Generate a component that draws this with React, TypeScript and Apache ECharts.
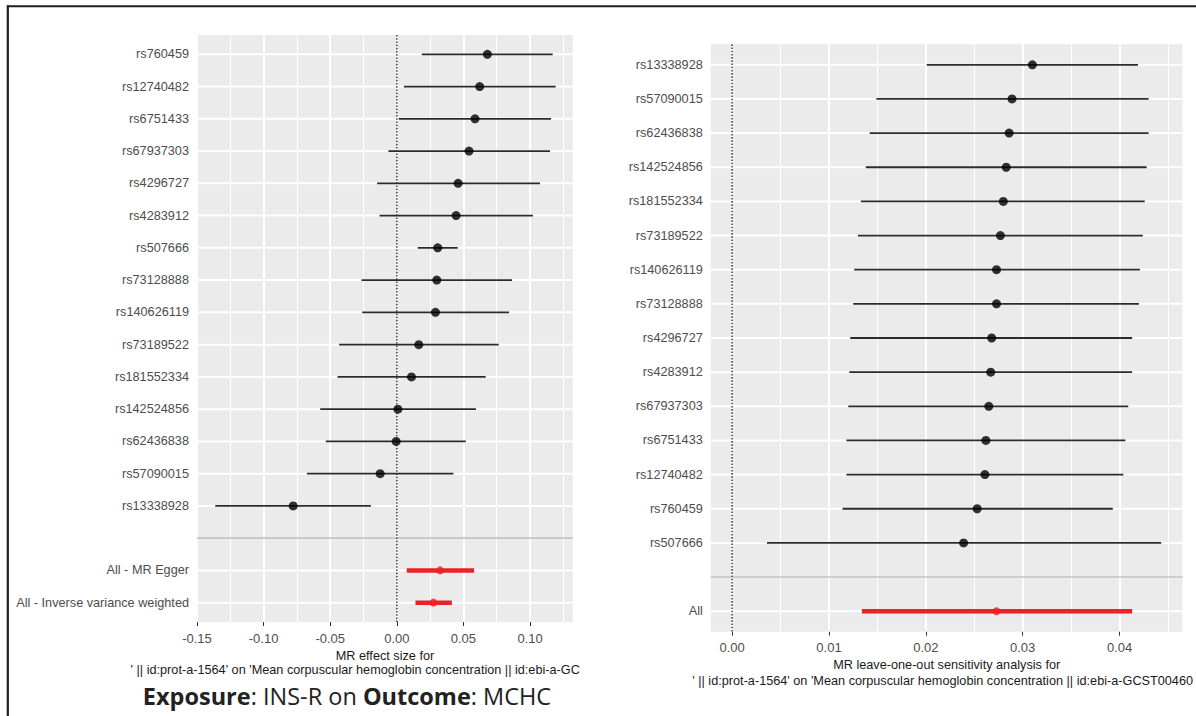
import React, { useEffect, useRef } from "react";
import * as echarts from "echarts";

// ---------- data ----------
const leftLabels = ["rs760459", "rs12740482", "rs6751433", "rs67937303", "rs4296727", "rs4283912", "rs507666", "rs73128888", "rs140626119", "rs73189522", "rs181552334", "rs142524856", "rs62436838", "rs57090015", "rs13338928"];
const leftEst = [0.068, 0.0622, 0.0587, 0.0542, 0.046, 0.0445, 0.0307, 0.03, 0.029, 0.0165, 0.011, 0.0008, -0.0005, -0.0125, -0.0778];
const leftLo = [0.0188, 0.0053, 0.0015, -0.0063, -0.0148, -0.013, 0.0157, -0.0265, -0.026, -0.0433, -0.0445, -0.0575, -0.0533, -0.0675, -0.1363];
const leftHi = [0.117, 0.1193, 0.1157, 0.115, 0.1075, 0.1022, 0.0457, 0.0865, 0.0842, 0.0765, 0.0667, 0.0595, 0.0518, 0.0425, -0.0195];
const leftSumLabels = ["All - MR Egger", "All - Inverse variance weighted"];
const leftSumEst = [0.0325, 0.0275];
const leftSumLo = [0.0075, 0.014];
const leftSumHi = [0.058, 0.0413];

const rightLabels = ["rs13338928", "rs57090015", "rs62436838", "rs142524856", "rs181552334", "rs73189522", "rs140626119", "rs73128888", "rs4296727", "rs4283912", "rs67937303", "rs6751433", "rs12740482", "rs760459", "rs507666"];
const rightEst = [0.031, 0.0289, 0.0286, 0.0283, 0.028, 0.0277, 0.0273, 0.0273, 0.0268, 0.0267, 0.0265, 0.0262, 0.0261, 0.0253, 0.0239];
const rightLo = [0.0201, 0.0149, 0.0142, 0.0138, 0.0133, 0.013, 0.0126, 0.0125, 0.0122, 0.0121, 0.012, 0.0118, 0.0118, 0.0114, 0.0036];
const rightHi = [0.0419, 0.043, 0.043, 0.0428, 0.0426, 0.0424, 0.0421, 0.042, 0.0413, 0.0413, 0.0409, 0.0406, 0.0404, 0.0393, 0.0443];
const rightSumLabels = ["All"];
const rightSumEst = [0.0273];
const rightSumLo = [0.0134];
const rightSumHi = [0.0413];

const leftTicks = [-0.15, -0.1, -0.05, 0, 0.05, 0.1];
const leftMinor = [-0.125, -0.075, -0.025, 0.025, 0.075, 0.125];
const rightTicks = [0, 0.01, 0.02, 0.03, 0.04];
const rightMinor = [0.005, 0.015, 0.025, 0.035, 0.045];

const leftTitle1 = "MR effect size for";
const leftTitle2 = "' || id:prot-a-1564' on 'Mean corpuscular hemoglobin concentration || id:ebi-a-GC";
const rightTitle1 = "MR leave-one-out sensitivity analysis for";
const rightTitle2 = "' || id:prot-a-1564' on 'Mean corpuscular hemoglobin concentration || id:ebi-a-GCST00460";

// ---------- styles ----------
const FONT = '"Liberation Sans", Arial, sans-serif';
const CAPFONT = '"Open Sans", "Noto Sans", sans-serif';
const BLACK_LINE = "#2b2b2b";
const RED = "#ec2227";

function panelSeries(
  g: number,
  labels: string[], est: number[], lo: number[], hi: number[],
  sLabels: string[], sEst: number[], sLo: number[], sHi: number[],
  xMin: number
) {
  const rows = [...labels, "", ...sLabels];
  const n = labels.length;
  const common = { xAxisIndex: g * 2, yAxisIndex: g };
  return [
    {
      type: "custom", ...common, z: 1, silent: true, clip: false,
      data: rows.map((_, i) => [xMin, i]),
      renderItem: (params: any, api: any) => {
        const idx = api.value(1);
        const y = api.coord([xMin, idx])[1];
        const cs = params.coordSys;
        const label = rows[params.dataIndex];
        const sep = label === "";
        const children: any[] = [
          {
            type: "line",
            shape: { x1: cs.x, y1: y, x2: cs.x + cs.width, y2: y },
            style: { stroke: sep ? "#c4c4c4" : "#ffffff", lineWidth: sep ? 1.6 : 2 },
          },
        ];
        if (!sep) {
          children.push({
            type: "text",
            x: cs.x - 8,
            y,
            style: { text: label, align: "right", verticalAlign: "middle", fill: "#4d4d4d", fontSize: 12.7, fontFamily: FONT },
          });
        }
        return { type: "group", children };
      },
    },
    {
      type: "custom", ...common, z: 1.5, silent: true,
      data: [[0, 0]],
      renderItem: (params: any, api: any) => {
        const x = api.coord([0, 0])[0];
        const cs = params.coordSys;
        return {
          type: "line",
          shape: { x1: x, y1: cs.y, x2: x, y2: cs.y + cs.height },
          style: { stroke: "#4a4a4a", lineWidth: 1.6, lineDash: [1.6, 1.6] },
        };
      },
    },
    {
      type: "custom", ...common, z: 2, silent: true,
      encode: { x: [0, 1], y: 2 },
      data: labels.map((_, i) => [lo[i], hi[i], i]),
      renderItem: (params: any, api: any) => {
        const p1 = api.coord([api.value(0), api.value(2)]);
        const p2 = api.coord([api.value(1), api.value(2)]);
        return { type: "line", shape: { x1: p1[0], y1: p1[1], x2: p2[0], y2: p2[1] }, style: { stroke: BLACK_LINE, lineWidth: 1.8 } };
      },
    },
    {
      type: "scatter", ...common, z: 3, silent: true,
      symbol: "circle", symbolSize: 9,
      itemStyle: { color: "#000000" },
      data: est.map((v, i) => [v, i]),
    },
    {
      type: "custom", ...common, z: 2, silent: true,
      encode: { x: [0, 1], y: 2 },
      data: sLabels.map((_, i) => [sLo[i], sHi[i], n + 1 + i]),
      renderItem: (params: any, api: any) => {
        const p1 = api.coord([api.value(0), api.value(2)]);
        const p2 = api.coord([api.value(1), api.value(2)]);
        return { type: "line", shape: { x1: p1[0], y1: p1[1], x2: p2[0], y2: p2[1] }, style: { stroke: RED, lineWidth: 4.5 } };
      },
    },
    {
      type: "scatter", ...common, z: 3, silent: true,
      symbol: "circle", symbolSize: 8,
      itemStyle: { color: RED },
      data: sEst.map((v, i) => [v, n + 1 + i]),
    },
  ];
}

function xAxes(g: number, min: number, max: number, ticks: number[], minor: number[], labelMargin: number) {
  return [
    {
      type: "value", gridIndex: g, min, max, position: "bottom",
      axisLine: { show: false, onZero: false },
      axisTick: { show: true, length: 4, customValues: ticks, lineStyle: { color: "#333333", width: 1 } },
      axisLabel: {
        show: true, customValues: ticks, margin: labelMargin,
        formatter: (v: number) => v.toFixed(2),
        color: "#4d4d4d", fontSize: 13, fontFamily: FONT,
      },
      splitLine: { show: true, lineStyle: { color: "#ffffff", width: 2 } },
    },
    {
      type: "value", gridIndex: g, min, max, position: "top",
      axisLine: { show: false, onZero: false },
      axisTick: { show: false, customValues: minor },
      axisLabel: { show: false, customValues: minor },
      splitLine: { show: true, lineStyle: { color: "#ffffff", width: 1 } },
    },
  ];
}

const option: any = {
  animation: false,
  backgroundColor: "#ffffff",
  grid: [
    { left: 197, top: 35, width: 375.8, height: 587, show: true, backgroundColor: "#ebebeb", borderWidth: 0 },
    { left: 710.8, top: 44.3, width: 471.7, height: 587.4, show: true, backgroundColor: "#ebebeb", borderWidth: 0 },
  ],
  xAxis: [
    ...xAxes(0, -0.15, 0.1321, leftTicks, leftMinor, 10),
    ...xAxes(1, -0.0022, 0.0465, rightTicks, rightMinor, 9),
  ],
  yAxis: [
    { type: "value", gridIndex: 0, inverse: true, min: -0.6, max: 17.6, show: false },
    { type: "value", gridIndex: 1, inverse: true, min: -0.6, max: 16.6, show: false },
  ],
  series: [
    ...panelSeries(0, leftLabels, leftEst, leftLo, leftHi, leftSumLabels, leftSumEst, leftSumLo, leftSumHi, -0.15),
    ...panelSeries(1, rightLabels, rightEst, rightLo, rightHi, rightSumLabels, rightSumEst, rightSumLo, rightSumHi, -0.0022),
  ],
  graphic: [
    { type: "line", shape: { x1: 7, y1: 6.3, x2: 1196, y2: 6.3 }, style: { stroke: "#1e1e1e", lineWidth: 2 } },
    { type: "line", shape: { x1: 7.8, y1: 5.3, x2: 7.8, y2: 716 }, style: { stroke: "#1e1e1e", lineWidth: 2.2 } },
    { type: "text", x: 385, y: 656, style: { text: leftTitle1, align: "center", verticalAlign: "middle", fill: "#1a1a1a", fontSize: 12.7, fontFamily: FONT } },
    { type: "text", x: 130.6, y: 670, style: { text: leftTitle2, align: "left", verticalAlign: "middle", fill: "#1a1a1a", fontSize: 12.7, fontFamily: FONT } },
    { type: "text", x: 946.7, y: 665, style: { text: rightTitle1, align: "center", verticalAlign: "middle", fill: "#1a1a1a", fontSize: 12.7, fontFamily: FONT } },
    { type: "text", x: 692.3, y: 680.7, style: { text: rightTitle2, align: "left", verticalAlign: "middle", fill: "#1a1a1a", fontSize: 12.7, fontFamily: FONT } },
    {
      type: "text", x: 347, y: 696,
      style: {
        text: "{b|Exposure}: INS-R on {b|Outcome}: MCHC",
        align: "center", verticalAlign: "middle",
        fill: "#222222", fontSize: 23.5, fontFamily: CAPFONT,
        rich: { b: { fontWeight: "bold", fontSize: 23.5, fontFamily: CAPFONT, fill: "#222222" } },
      },
    },
  ],
};

export default function App() {
  const ref = useRef<HTMLDivElement>(null);
  useEffect(() => {
    const chart = echarts.init(ref.current!, null, { renderer: "svg" });
    chart.setOption(option);
    return () => chart.dispose();
  }, []);
  return (
    <div
      ref={ref}
      style={{ position: "absolute", left: 0, top: 0, width: 1196, height: 716, background: "#ffffff" }}
    />
  );
}
